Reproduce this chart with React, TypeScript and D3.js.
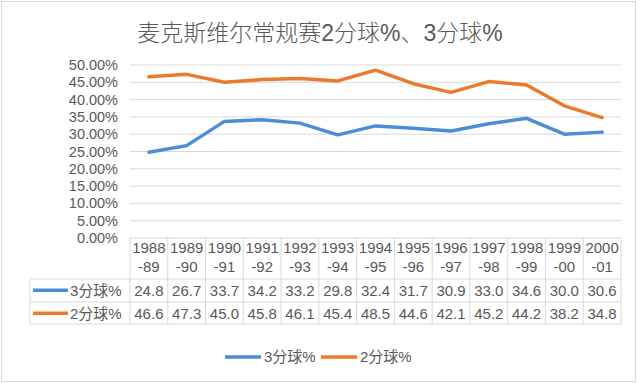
import React from "react";
import * as d3 from "d3";

const title = "麦克斯维尔常规赛2分球%、3分球%";
const seasonsTop = ["1988", "1989", "1990", "1991", "1992", "1993", "1994", "1995", "1996", "1997", "1998", "1999", "2000"];
const seasonsBottom = ["-89", "-90", "-91", "-92", "-93", "-94", "-95", "-96", "-97", "-98", "-99", "-00", "-01"];
const threePct = [24.8, 26.7, 33.7, 34.2, 33.2, 29.8, 32.4, 31.7, 30.9, 33.0, 34.6, 30.0, 30.6];
const twoPct = [46.6, 47.3, 45.0, 45.8, 46.1, 45.4, 48.5, 44.6, 42.1, 45.2, 44.2, 38.2, 34.8];
const yTicks = [0, 0.05, 0.1, 0.15, 0.2, 0.25, 0.3, 0.35, 0.4, 0.45, 0.5];

const series = [
  { name: "3分球%", values: threePct, color: "#4B8DD6" },
  { name: "2分球%", values: twoPct, color: "#EC7A2C" },
];

const W = 640, H = 383;
const left = 130, right = 621, top = 65, bottom = 238;
const FONT = "'Liberation Sans', Arial, 'Noto Sans CJK SC', sans-serif";
const TXT = "#595959";
const GRID = "#d9d9d9";

export default function App() {
  const idx = seasonsTop.map((_, i) => i);
  const x = d3.scaleBand<number>().domain(idx).range([left, right]);
  const y = d3.scaleLinear().domain([0, 0.5]).range([bottom, top]);
  const fmt = d3.format(".2%");
  const line = d3
    .line<number>()
    .x((_, i) => (x(i) as number) + x.bandwidth() / 2)
    .y((v) => y(v / 100));

  const rowTops = [279, 302];
  const rowBottom = 324;
  const rowH = 22.5;

  return (
    <svg width={W} height={H} style={{ position: "absolute", left: 0, top: 0, background: "#fff" }}>
      <rect x={1.5} y={1.5} width={634} height={380} fill="#fff" stroke={GRID} strokeWidth={1} />
      <text x={320} y={41} textAnchor="middle" fontSize={23} fontWeight={300} fill={TXT} fontFamily={FONT}>
        {title}
      </text>
      {yTicks.map((t) => (
        <g key={t}>
          <line x1={left} x2={right} y1={y(t)} y2={y(t)} stroke={GRID} strokeWidth={1} />
          <text x={118} y={y(t)} dy="0.35em" textAnchor="end" fontSize={14.5} fill={TXT} fontFamily={FONT}>
            {fmt(t)}
          </text>
        </g>
      ))}
      {series.map((s) => (
        <path key={s.name} d={line(s.values) || ""} fill="none" stroke={s.color} strokeWidth={3.5} strokeLinejoin="round" strokeLinecap="round" />
      ))}
      {/* data table */}
      <g stroke={GRID} strokeWidth={1} fill="none">
        {idx.map((i) => (
          <line key={i} x1={x(i)} x2={x(i)} y1={bottom} y2={rowBottom} />
        ))}
        <line x1={right} x2={right} y1={bottom} y2={rowBottom} />
        <line x1={30} x2={30} y1={rowTops[0]} y2={rowBottom} />
        {rowTops.map((r) => (
          <line key={r} x1={30} x2={right} y1={r} y2={r} />
        ))}
        <line x1={30} x2={right} y1={rowBottom} y2={rowBottom} />
      </g>
      {idx.map((i) => {
        const cx = (x(i) as number) + x.bandwidth() / 2;
        return (
          <g key={i} fontFamily={FONT} fontSize={15} fill={TXT} textAnchor="middle">
            <text x={cx} y={248} dy="0.35em">{seasonsTop[i]}</text>
            <text x={cx} y={267} dy="0.35em">{seasonsBottom[i]}</text>
            {series.map((s, k) => (
              <text key={s.name} x={cx} y={rowTops[k] + rowH / 2} dy="0.35em">
                {s.values[i].toFixed(1)}
              </text>
            ))}
          </g>
        );
      })}
      {series.map((s, k) => (
        <g key={s.name}>
          <line x1={33} x2={68} y1={rowTops[k] + rowH / 2} y2={rowTops[k] + rowH / 2} stroke={s.color} strokeWidth={3.5} />
          <text x={70} y={rowTops[k] + rowH / 2} dy="0.35em" fontSize={15} fill={TXT} fontFamily={FONT}>
            {s.name}
          </text>
        </g>
      ))}
      {/* legend */}
      {series.map((s, k) => {
        const lx = k === 0 ? 225 : 321;
        return (
          <g key={s.name}>
            <line x1={lx} x2={lx + 36} y1={357} y2={357} stroke={s.color} strokeWidth={3.5} />
            <text x={lx + 39} y={357} dy="0.35em" fontSize={15} fill={TXT} fontFamily={FONT}>
              {s.name}
            </text>
          </g>
        );
      })}
    </svg>
  );
}
